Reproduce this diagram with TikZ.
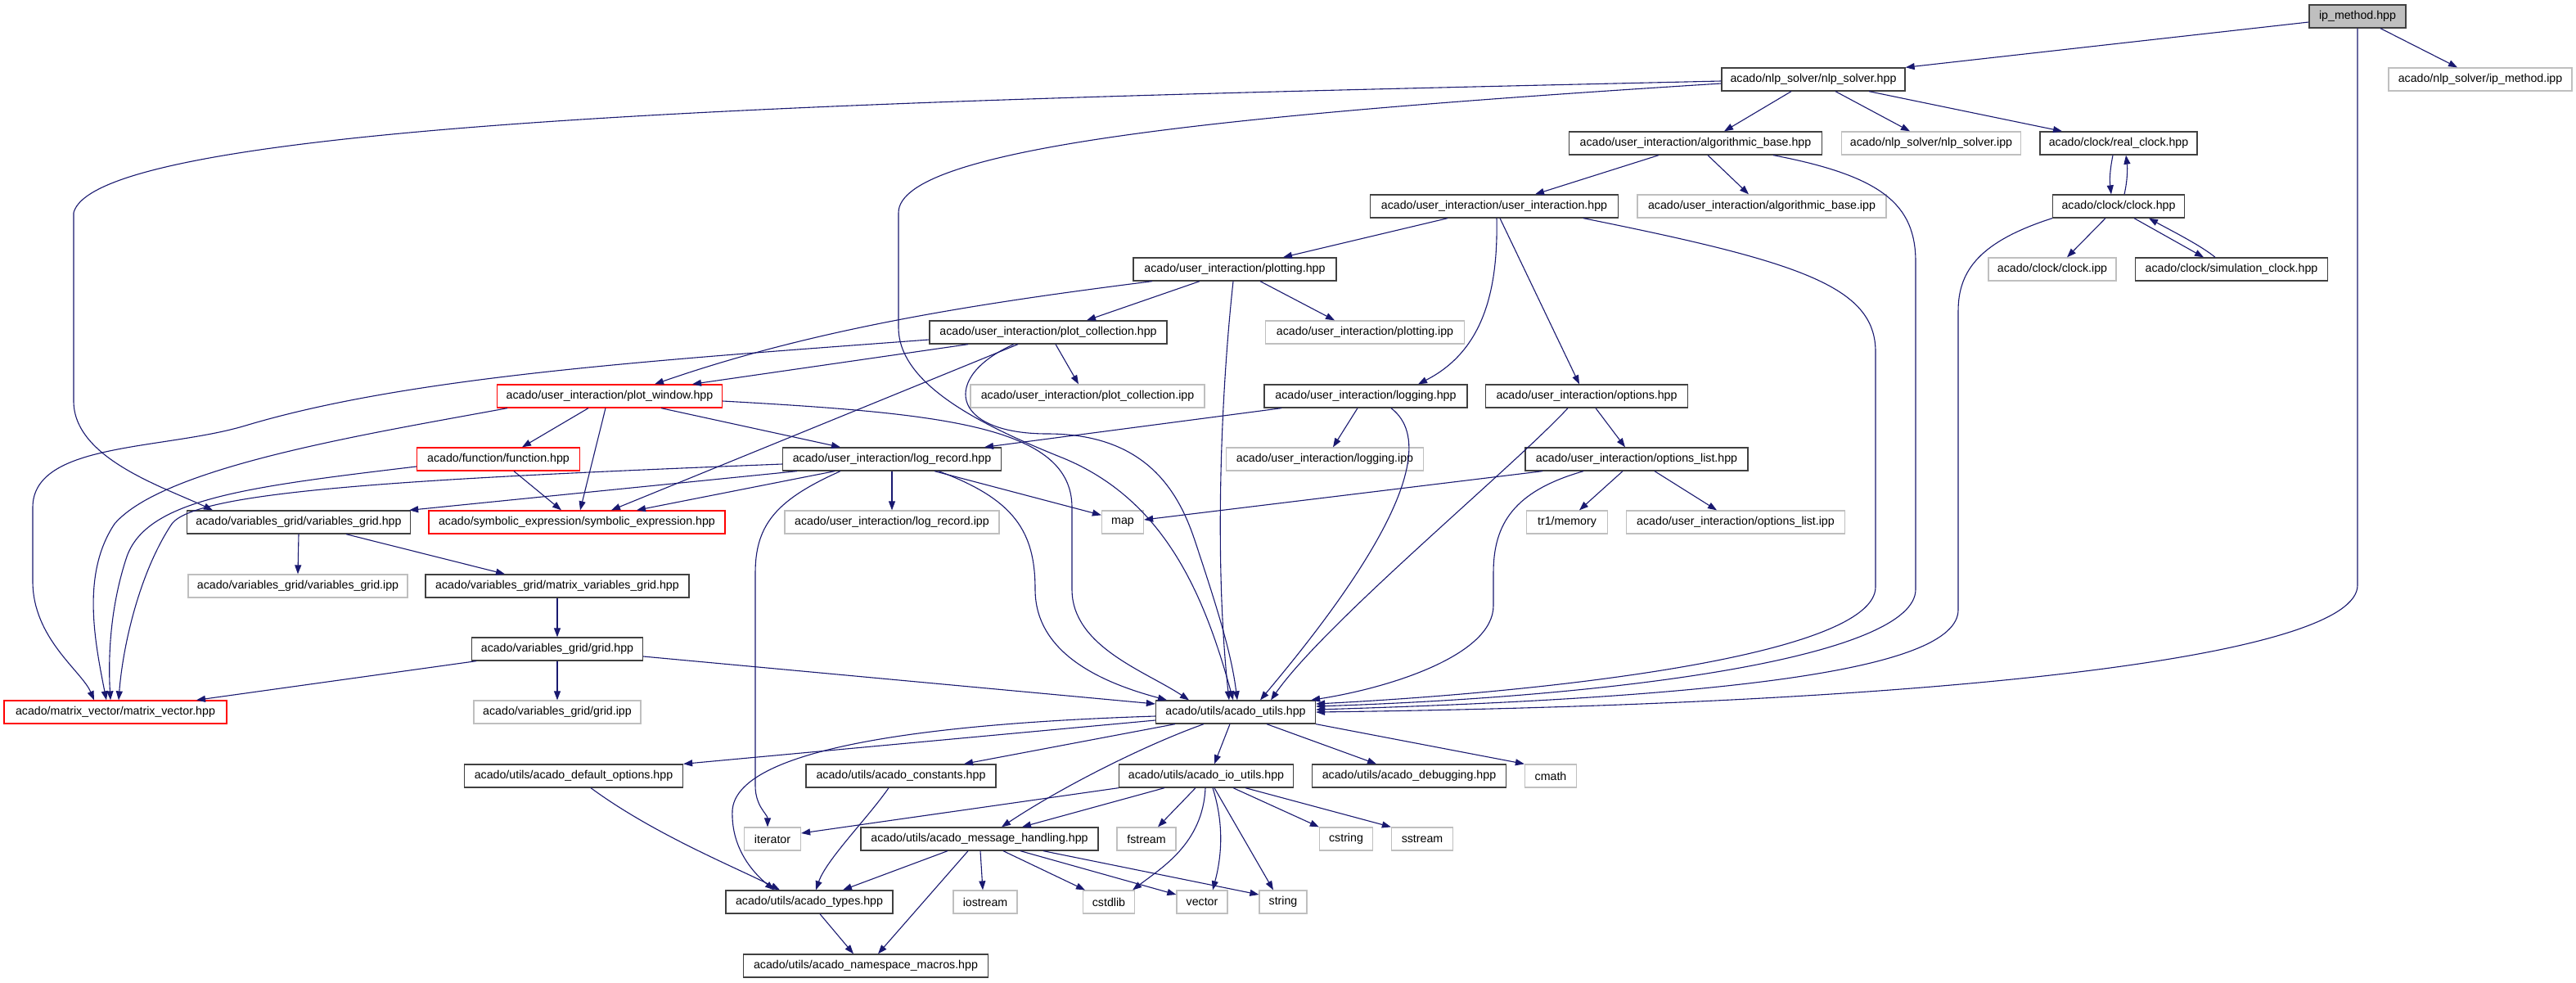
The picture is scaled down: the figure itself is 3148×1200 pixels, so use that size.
\documentclass[tikz,border=0pt]{standalone}
\usepackage{fontspec}
\newfontfamily\gvfam{Liberation Sans}
\newcommand\gvfont{\gvfam\fontsize{14.2}{16}\selectfont}
\usetikzlibrary{arrows.meta}
\definecolor{midblue}{RGB}{25,25,112}
\definecolor{lgray}{RGB}{191,191,191}
\definecolor{dgray}{RGB}{64,64,64}
\definecolor{mainfill}{RGB}{191,191,191}
\tikzset{
 nb/.style={draw=dgray, line width=1.3pt, fill=white, minimum height=28pt, inner sep=0pt, font=\gvfont},
 ng/.style={nb, draw=lgray},
 nr/.style={nb, draw=red},
 nm/.style={nb, fill=mainfill},
 dep/.style={draw=midblue, line width=1.1pt, -{Triangle[length=11pt,width=8pt]}},
}
\begin{document}
\begin{tikzpicture}[x=1pt,y=-1pt]
\useasboundingbox (0,0) rectangle (3148,1200);
\fill[white] (0,0) rectangle (3148,1200);
% nodes
\node[nm, minimum width=118pt] (ipm) at (2881,20) {ip\_method.hpp};
\node[ng, minimum width=224pt] (ipmipp) at (3031,97) {acado/nlp\_solver/ip\_method.ipp};
\node[nb, minimum width=224pt] (nlp) at (2216,97) {acado/nlp\_solver/nlp\_solver.hpp};
\node[nb, minimum width=309pt] (algb) at (2072,175) {acado/user\_interaction/algorithmic\_base.hpp};
\node[ng, minimum width=219pt] (nlpipp) at (2360,175) {acado/nlp\_solver/nlp\_solver.ipp};
\node[nb, minimum width=192pt] (rclk) at (2589,175) {acado/clock/real\_clock.hpp};
\node[nb, minimum width=303pt] (ui) at (1826,252) {acado/user\_interaction/user\_interaction.hpp};
\node[ng, minimum width=304pt] (algbipp) at (2153,252) {acado/user\_interaction/algorithmic\_base.ipp};
\node[nb, minimum width=161pt] (clk) at (2589,252) {acado/clock/clock.hpp};
\node[ng, minimum width=156pt] (clkipp) at (2508,329) {acado/clock/clock.ipp};
\node[nb, minimum width=235pt] (simclk) at (2727,329) {acado/clock/simulation\_clock.hpp};
\node[nb, minimum width=248pt] (plt) at (1509,329) {acado/user\_interaction/plotting.hpp};
\node[ng, minimum width=243pt] (pltipp) at (1668,406) {acado/user\_interaction/plotting.ipp};
\node[nb, minimum width=290pt] (pc) at (1281,406) {acado/user\_interaction/plot\_collection.hpp};
\node[ng, minimum width=286pt] (pcipp) at (1329,484) {acado/user\_interaction/plot\_collection.ipp};
\node[nr, minimum width=275pt] (pw) at (745,484) {acado/user\_interaction/plot\_window.hpp};
\node[nb, minimum width=248pt] (lg) at (1669,484) {acado/user\_interaction/logging.hpp};
\node[nb, minimum width=247pt] (opt) at (1939,484) {acado/user\_interaction/options.hpp};
\node[nr, minimum width=199pt] (fn) at (609,561) {acado/function/function.hpp};
\node[nb, minimum width=267pt] (lr) at (1090,561) {acado/user\_interaction/log\_record.hpp};
\node[ng, minimum width=241pt] (lgipp) at (1619,561) {acado/user\_interaction/logging.ipp};
\node[nb, minimum width=272pt] (optl) at (2000,561) {acado/user\_interaction/options\_list.hpp};
\node[nb, minimum width=273pt] (vg) at (365,638) {acado/variables\_grid/variables\_grid.hpp};
\node[nr, minimum width=362pt] (se) at (705,638) {acado/symbolic\_expression/symbolic\_expression.hpp};
\node[ng, minimum width=262pt] (lripp) at (1090,638) {acado/user\_interaction/log\_record.ipp};
\node[ng, minimum width=51pt] (nmap) at (1372,638) {map};
\node[ng, minimum width=99pt] (tr1) at (1915,638) {tr1/memory};
\node[ng, minimum width=267pt] (optlipp) at (2121,638) {acado/user\_interaction/options\_list.ipp};
\node[ng, minimum width=268pt] (vgipp) at (364,716) {acado/variables\_grid/variables\_grid.ipp};
\node[nb, minimum width=322pt] (mvg) at (681,716) {acado/variables\_grid/matrix\_variables\_grid.hpp};
\node[nb, minimum width=209pt] (ngrid) at (681,793) {acado/variables\_grid/grid.hpp};
\node[nr, minimum width=272pt] (mv) at (141,870) {acado/matrix\_vector/matrix\_vector.hpp};
\node[ng, minimum width=204pt] (gridipp) at (681,870) {acado/variables\_grid/grid.ipp};
\node[nb, minimum width=195pt] (au) at (1510,870) {acado/utils/acado\_utils.hpp};
\node[nb, minimum width=267pt] (ado) at (701,948) {acado/utils/acado\_default\_options.hpp};
\node[nb, minimum width=232pt] (ac) at (1101,948) {acado/utils/acado\_constants.hpp};
\node[nb, minimum width=213pt] (aio) at (1474,948) {acado/utils/acado\_io\_utils.hpp};
\node[nb, minimum width=237pt] (adbg) at (1722,948) {acado/utils/acado\_debugging.hpp};
\node[ng, minimum width=63pt] (cmath) at (1895,948) {cmath};
\node[ng, minimum width=69pt] (iter) at (944,1025) {iterator};
\node[nb, minimum width=290pt] (amh) at (1197,1025) {acado/utils/acado\_message\_handling.hpp};
\node[ng, minimum width=72pt] (fstream) at (1401,1025) {fstream};
\node[ng, minimum width=65pt] (cstring) at (1645,1025) {cstring};
\node[ng, minimum width=75pt] (sstream) at (1738,1025) {sstream};
\node[nb, minimum width=204pt] (atyp) at (989,1102) {acado/utils/acado\_types.hpp};
\node[ng, minimum width=78pt] (iostream) at (1204,1102) {iostream};
\node[ng, minimum width=63pt] (cstdlib) at (1355,1102) {cstdlib};
\node[ng, minimum width=62pt] (nvector) at (1469,1102) {vector};
\node[ng, minimum width=58pt] (nstring) at (1568,1102) {string};
\node[nb, minimum width=299pt] (anm) at (1058,1180) {acado/utils/acado\_namespace\_macros.hpp};
% edges
\draw[dep] ([yshift=-7pt]ipm.west) -- (nlp.north east);
\draw[dep] ([xshift=28pt]ipm.south) -- ([xshift=-28pt]ipmipp.north);
\draw[dep] (ipm.south) -- (2881,715) .. controls (2881,800) and (2400,860) .. (au.east);
\draw[dep] (clk.south west) .. controls (2420,295) and (2393,330) .. (2393,380) -- (2393,745) .. controls (2393,820) and (2100,852) .. ([yshift=3pt]au.east);
\draw[dep] ([xshift=95pt]algb.south) .. controls (2300,215) and (2341,250) .. (2341,320) -- (2341,720) .. controls (2341,800) and (2000,850) .. ([yshift=7pt]au.east);
\draw[dep] ([xshift=109pt]ui.south) .. controls (2200,320) and (2292,350) .. (2292,430) -- (2292,717) .. controls (2292,800) and (1900,845) .. ([yshift=10pt]au.east);
\draw[dep] ([xshift=-65pt]optl.south) .. controls (1850,600) and (1825,640) .. (1825,700) -- (1825,740) .. controls (1825,800) and (1700,840) .. ([xshift=-6pt]au.north east);
\draw[dep] ([xshift=-23pt]opt.south) .. controls (1850,570) and (1620,760) .. ([xshift=43pt]au.north);
\draw[dep] ([xshift=31pt]lg.south) .. controls (1780,560) and (1620,760) .. ([xshift=30pt]au.north);
\draw[dep] ([xshift=-2pt]plt.south) .. controls (1490,500) and (1485,700) .. ([xshift=-8pt]au.north);
\draw[dep] ([yshift=-5pt]nlp.west) .. controls (1500,140) and (1098,180) .. (1098,260) -- (1098,400) .. controls (1098,470) and (1200,520) .. (1300,560) .. controls (1420,610) and (1470,720) .. ([xshift=-3pt]au.north);
\draw[dep] ([xshift=-42pt]pc.south) .. controls (1150,460) and (1160,530) .. (1280,530) .. controls (1400,530) and (1440,600) .. (1460,660) .. controls (1490,750) and (1505,800) .. ([xshift=2pt]au.north);
\draw[dep] ([yshift=-6pt]pw.east) .. controls (1150,505) and (1310,520) .. (1310,620) -- (1310,720) .. controls (1310,790) and (1400,820) .. ([xshift=-57pt]au.north);
\draw[dep] ([xshift=57pt]lr.south) .. controls (1240,610) and (1265,650) .. (1265,720) .. controls (1265,800) and (1350,835) .. ([xshift=-84pt]au.north);
\draw[dep] ([yshift=-9pt]ngrid.east) -- ([yshift=10pt]au.west);
\draw[dep] ([xshift=-27pt]nlp.south) -- ([xshift=35pt]algb.north);
\draw[dep] ([xshift=27pt]nlp.south) -- ([xshift=-26pt]nlpipp.north);
\draw[dep] ([xshift=68pt]nlp.south) -- ([xshift=-69pt]rclk.north);
\draw[dep] ([yshift=-2pt]nlp.west) .. controls (1200,120) and (120,140) .. (90,260) -- (90,490) .. controls (90,560) and (200,595) .. ([xshift=-105pt]vg.north);
\draw[dep] ([xshift=-45pt]algb.south) -- ([xshift=50pt]ui.north);
\draw[dep] ([xshift=15pt]algb.south) -- ([xshift=-16pt]algbipp.north);
\draw[dep] ([xshift=-7pt]rclk.south) .. controls (2578,210) and (2578,220) .. ([xshift=-9pt]clk.north);
\draw[dep] ([xshift=7pt]clk.north) .. controls (2600,220) and (2600,205) .. ([xshift=9pt]rclk.south);
\draw[dep] ([xshift=-16pt]clk.south) -- ([xshift=18pt]clkipp.north);
\draw[dep] ([xshift=19pt]clk.south) -- ([xshift=-34pt]simclk.north);
\draw[dep] ([xshift=-20pt]simclk.north) .. controls (2690,300) and (2650,280) .. ([xshift=37pt]clk.south);
\draw[dep] ([xshift=-57pt]ui.south) -- ([xshift=59pt]plt.north);
\draw[dep] ([xshift=3pt]ui.south) .. controls (1831,360) and (1810,430) .. ([xshift=64pt]lg.north);
\draw[dep] ([xshift=7pt]ui.south) -- ([xshift=-9pt]opt.north);
\draw[dep] ([xshift=-43pt]plt.south) -- ([xshift=47pt]pc.north);
\draw[dep] ([xshift=-101pt]plt.south) .. controls (1200,370) and (1000,400) .. ([xshift=55pt]pw.north);
\draw[dep] ([xshift=31pt]plt.south) -- ([xshift=-37pt]pltipp.north);
\draw[dep] ([xshift=-98pt]pc.south) -- ([xshift=101pt]pw.north);
\draw[dep] ([xshift=9pt]pc.south) -- ([xshift=-11pt]pcipp.north);
\draw[dep] ([xshift=-37pt]pc.south) -- ([xshift=42pt]se.north);
\draw[dep] ([yshift=-9pt]pc.west) .. controls (800,440) and (500,460) .. (300,520) .. controls (200,550) and (40,540) .. (40,620) -- (40,710) .. controls (40,780) and (100,820) .. ([xshift=-26pt]mv.north);
\draw[dep] ([xshift=-26pt]pw.south) -- ([xshift=29pt]fn.north);
\draw[dep] ([xshift=-5pt]pw.south) -- ([xshift=4pt]se.north);
\draw[dep] ([xshift=63pt]pw.south) -- ([xshift=-63pt]lr.north);
\draw[dep] ([xshift=-125pt]pw.south) .. controls (450,530) and (200,570) .. (140,640) .. controls (100,700) and (115,780) .. ([xshift=-11pt]mv.north);
\draw[dep] ([xshift=19pt]fn.south) -- ([xshift=-19pt]se.north);
\draw[dep] ([yshift=-9pt]fn.west) .. controls (300,595) and (180,610) .. (155,680) .. controls (135,740) and (132,800) .. ([xshift=-6pt]mv.north);
\draw[dep] ([yshift=-6pt]lr.west) .. controls (500,585) and (240,600) .. (210,640) .. controls (170,700) and (150,790) .. ([xshift=4pt]mv.north);
\draw[dep] ([xshift=-116pt]lr.south) -- ([xshift=-2pt]vg.north east);
\draw[dep] ([xshift=-70pt]lr.south) -- ([xshift=73pt]se.north);
\draw[dep] ([xshift=-63pt]lr.south) .. controls (950,610) and (923,640) .. (923,700) -- (923,960) .. controls (923,985) and (938,995) .. ([xshift=-6pt]iter.north);
\draw[dep] (lr.south) -- (lripp.north);
\draw[dep] ([xshift=52pt]lr.south) -- ([yshift=-6pt]nmap.north west);
\draw[dep] ([xshift=-115pt]optl.south) -- ([yshift=3pt]nmap.east);
\draw[dep] ([xshift=-103pt]lg.south) -- ([xshift=113pt]lr.north);
\draw[dep] ([xshift=-10pt]lg.south) -- ([xshift=10pt]lgipp.north);
\draw[dep] ([xshift=11pt]opt.south) -- ([xshift=-14pt]optl.north);
\draw[dep] ([xshift=-17pt]optl.south) -- ([xshift=15pt]tr1.north);
\draw[dep] ([xshift=22pt]optl.south) -- ([xshift=-23pt]optlipp.north);
\draw[dep] (vg.south) -- (vgipp.north);
\draw[dep] ([xshift=58pt]vg.south) -- ([xshift=-64pt]mvg.north);
\draw[dep] (mvg.south) -- (ngrid.north);
\draw[dep] (ngrid.south) -- (gridipp.north);
\draw[dep] ([xshift=-99pt]ngrid.south) -- ([xshift=99pt]mv.north);
\draw[dep] ([yshift=-10pt]au.west) -- (ado.north east);
\draw[dep] ([yshift=-5pt]au.west) .. controls (1100,885) and (900,920) .. (895,990) .. controls (893,1040) and (925,1070) .. ([xshift=-43pt]atyp.north);
\draw[dep] ([xshift=-74pt]au.south) -- ([xshift=77pt]ac.north);
\draw[dep] ([xshift=-39pt]au.south) .. controls (1400,910) and (1300,960) .. ([xshift=27pt]amh.north);
\draw[dep] ([xshift=-7pt]au.south) -- ([xshift=10pt]aio.north);
\draw[dep] ([xshift=38pt]au.south) -- ([xshift=-40pt]adbg.north);
\draw[dep] (au.south east) -- (cmath.north west);
\draw[dep] (aio.south west) -- ([yshift=7pt]iter.east);
\draw[dep] ([xshift=-51pt]aio.south) -- ([xshift=52pt]amh.north);
\draw[dep] ([xshift=-13pt]aio.south) -- ([xshift=14pt]fstream.north);
\draw[dep] ([xshift=-1pt]aio.south) .. controls (1470,1030) and (1420,1060) .. ([xshift=-3pt]cstdlib.north east);
\draw[dep] ([xshift=8pt]aio.south) .. controls (1497,1010) and (1492,1050) .. ([xshift=13pt]nvector.north);
\draw[dep] ([xshift=10pt]aio.south) -- ([xshift=-12pt]nstring.north);
\draw[dep] ([xshift=33pt]aio.south) -- (cstring.north west);
\draw[dep] ([xshift=48pt]aio.south) -- (sstream.north west);
\draw[dep] ([xshift=-39pt]amh.south) -- ([xshift=41pt]atyp.north);
\draw[dep] ([xshift=-14pt]amh.south) -- ([xshift=15pt]anm.north);
\draw[dep] ([xshift=1pt]amh.south) -- ([xshift=-3pt]iostream.north);
\draw[dep] ([xshift=29pt]amh.south) -- ([xshift=-29pt]cstdlib.north);
\draw[dep] ([xshift=50pt]amh.south) -- ([yshift=9pt]nvector.west);
\draw[dep] ([xshift=78pt]amh.south) -- ([yshift=9pt]nstring.west);
\draw[dep] ([xshift=13pt]atyp.south) -- ([xshift=-15pt]anm.north);
\draw[dep] ([xshift=21pt]ado.south) .. controls (800,1020) and (900,1060) .. ([xshift=-36pt]atyp.north);
\draw[dep] ([xshift=-15pt]ac.south) .. controls (1060,1000) and (1010,1050) .. ([xshift=8pt]atyp.north);
\end{tikzpicture}
\end{document}
